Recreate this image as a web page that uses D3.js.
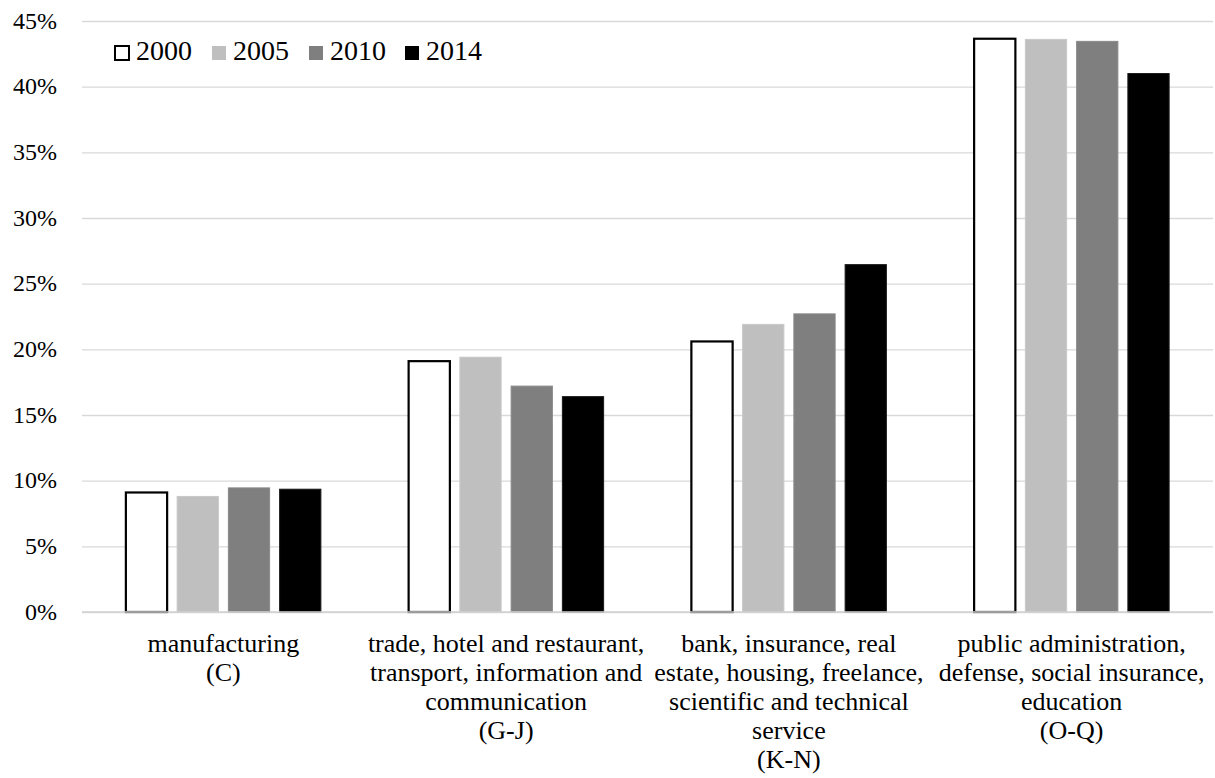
<!DOCTYPE html>
<html>
<head>
<meta charset="utf-8">
<script src="https://cdn.jsdelivr.net/npm/d3@7"></script>
</head>
<body style="margin:0;background:#fff;font-family:'Liberation Serif',serif">
<script>
const width = 1215
const height = 778
const margin = { top: 21, right: 2, bottom: 166, left: 82 }
const serifFont = 'Liberation Serif'

const years = ['2000', '2005', '2010', '2014']
const categories = ['C', 'G-J', 'K-N', 'O-Q']
const categoryLabels = [
  ['manufacturing', '(C)'],
  ['trade, hotel and restaurant,', 'transport, information and', 'communication', '(G-J)'],
  ['bank, insurance, real', 'estate, housing, freelance,', 'scientific and technical', 'service', '(K-N)'],
  ['public administration,', 'defense, social insurance,', 'education', '(O-Q)']
]
// share in percent, one array per year, same order as categories
const values2000 = [9.1, 19.1, 20.6, 43.65]
const values2005 = [8.8, 19.4, 21.9, 43.6]
const values2010 = [9.45, 17.2, 22.7, 43.45]
const values2014 = [9.35, 16.4, 26.45, 41.0]
const yTicks = [0, 5, 10, 15, 20, 25, 30, 35, 40, 45]

const series = [values2000, values2005, values2010, values2014]

const style = {
  grid: '#d9d9d9',
  fill: { '2000': '#ffffff', '2005': '#bfbfbf', '2010': '#7f7f7f', '2014': '#000000' },
  stroke: { '2000': '#000000', '2005': '#c8c8c8', '2010': '#8a8a8a', '2014': '#1a1a1a' }
}

const svg = d3.select('body')
  .append('svg')
  .attr('width', width)
  .attr('height', height)
  .attr('font-family', serifFont)

const x0 = d3.scaleBand()
  .domain(categories)
  .range([margin.left, width - margin.right])

const x1 = d3.scaleBand()
  .domain(years)
  .range([0, x0.bandwidth()])
  .paddingInner(0.195)
  .paddingOuter(0.856)

const y = d3.scaleLinear()
  .domain([0, 45])
  .range([height - margin.bottom, margin.top])

// gridlines
const yAxis = d3.axisLeft(y)
  .tickValues(yTicks)
  .tickFormat('')
  .tickSize(-(width - margin.left - margin.right))

svg.append('g')
  .attr('transform', `translate(${margin.left},0)`)
  .call(yAxis)
  .call(g => g.select('.domain').remove())
  .call(g => g.selectAll('.tick text').remove())
  .call(g => g.selectAll('.tick line').attr('stroke', style.grid).attr('stroke-width', 1.3))

// y tick labels
svg.append('g')
  .selectAll('text')
  .data(yTicks)
  .join('text')
  .attr('x', margin.left - 25)
  .attr('y', d => y(d))
  .attr('dy', '0.32em')
  .attr('text-anchor', 'end')
  .attr('font-family', serifFont)
  .attr('font-size', 24)
  .attr('fill', '#000')
  .text(d => d + '%')

// bars
const rows = categories.map((c, i) => ({
  category: c,
  bars: years.map((yr, j) => ({ year: yr, value: series[j][i] }))
}))

const groups = svg.append('g')
  .selectAll('g')
  .data(rows)
  .join('g')
  .attr('transform', d => `translate(${x0(d.category)},0)`)

groups.selectAll('rect')
  .data(d => d.bars)
  .join('rect')
  .attr('x', d => x1(d.year))
  .attr('y', d => y(d.value))
  .attr('width', x1.bandwidth())
  .attr('height', d => y(0) - y(d.value))
  .attr('fill', d => style.fill[d.year])
  .attr('stroke', d => style.stroke[d.year])
  .attr('stroke-width', d => d.year === '2000' ? 2.2 : 1)

// baseline
svg.append('line')
  .attr('x1', margin.left)
  .attr('x2', width - margin.right)
  .attr('y1', y(0))
  .attr('y2', y(0))
  .attr('stroke', '#d0d0d0')
  .attr('stroke-width', 1.3)

// category labels, one text per line
const labelLines = []
categories.forEach((c, i) => {
  categoryLabels[i].forEach((line, k) => labelLines.push({ category: c, line, k }))
})

svg.append('g')
  .selectAll('text')
  .data(labelLines)
  .join('text')
  .attr('text-anchor', 'middle')
  .attr('fill', '#000')
  .attr('font-family', serifFont)
  .attr('font-size', 26)
  .attr('x', d => x0(d.category) + x0.bandwidth() / 2)
  .attr('y', d => y(0) + 40 + d.k * 29)
  .text(d => d.line)

// legend
const legendX = [115, 212, 309, 405]
const legend = svg.append('g')
  .selectAll('g')
  .data(years)
  .join('g')
  .attr('transform', (d, i) => `translate(${legendX[i]},46)`)

legend.append('rect')
  .attr('width', 14)
  .attr('height', 14)
  .attr('fill', d => style.fill[d])
  .attr('stroke', d => d === '2000' ? '#000' : 'none')
  .attr('stroke-width', 2)

legend.append('text')
  .attr('x', 21)
  .attr('y', 14)
  .attr('fill', '#000')
  .attr('font-family', serifFont)
  .attr('font-size', 28)
  .text(d => d)
</script>
</body>
</html>
